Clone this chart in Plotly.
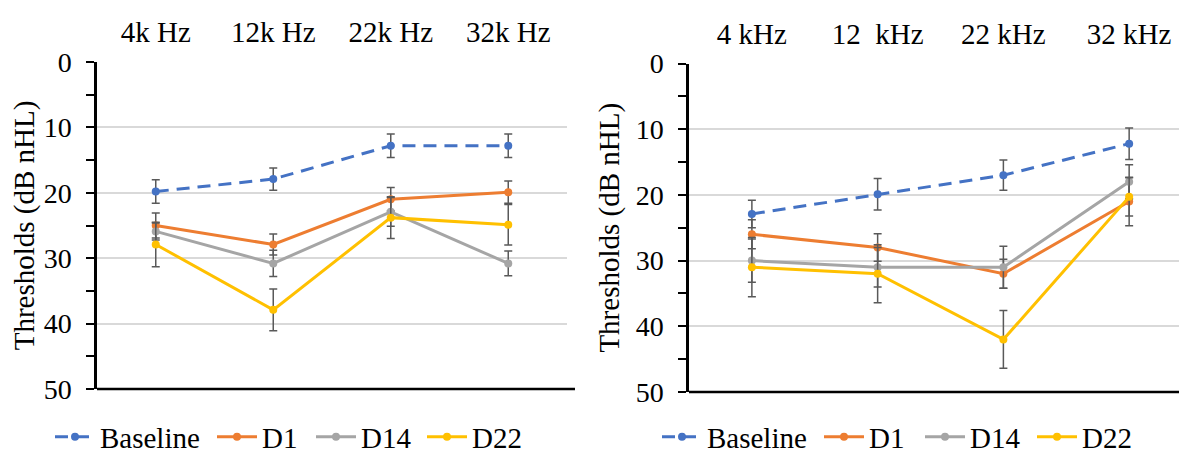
import plotly.graph_objects as go

# ---------------- data ----------------
cats_left = ["4k Hz", "12k Hz", "22k Hz", "32k Hz"]
cats_right = ["4 kHz", "12\u00a0 kHz", "22 kHz", "32 kHz"]
series_names = ["Baseline", "D1", "D14", "D22"]

left_baseline = [19.8, 17.9, 12.8, 12.8]
left_baseline_err = [1.8, 1.7, 1.8, 1.8]
left_d1 = [25.0, 27.9, 21.0, 19.9]
left_d1_err = [1.9, 1.6, 1.8, 1.7]
left_d14 = [25.9, 30.8, 22.9, 30.8]
left_d14_err = [1.3, 2.0, 2.2, 1.9]
left_d22 = [27.9, 37.9, 23.8, 24.9]
left_d22_err = [3.4, 3.2, 3.2, 3.1]

right_baseline = [22.9, 19.9, 17.0, 12.2]
right_baseline_err = [2.1, 2.4, 2.3, 2.4]
right_d1 = [26.0, 28.0, 32.0, 21.0]
right_d1_err = [2.2, 2.1, 2.2, 3.7]
right_d14 = [30.0, 31.0, 31.0, 18.0]
right_d14_err = [3.3, 3.0, 3.2, 2.6]
right_d22 = [31.0, 32.0, 42.0, 20.3]
right_d22_err = [4.5, 4.4, 4.4, 2.9]

y_ticks = [0, 10, 20, 30, 40, 50]

# ---------------- styles ----------------
colors = {"Baseline": "#4472C4", "D1": "#ED7D31", "D14": "#A5A5A5", "D22": "#FFC000"}
dashes = {"Baseline": "13px,8px", "D1": "solid", "D14": "solid", "D22": "solid"}
FONT = "Times New Roman, Liberation Serif, serif"
ERR_COLOR = "#595959"

# page body has an 8px default margin: size the figure to fill the rest of the window
OFF = 8
W, H = 1187 - OFF, 453 - OFF

def px_x(p):
    return (p - OFF) / W

def px_y(p):
    return 1 - (p - OFF) / H

# left edge (px) of each legend entry, left panel then right panel
legend_left_px = [56, 218, 317, 428]
legend_right_px = [663, 825, 926, 1038]

fig = go.Figure()

left_vals = [left_baseline, left_d1, left_d14, left_d22]
left_errs = [left_baseline_err, left_d1_err, left_d14_err, left_d22_err]
right_vals = [right_baseline, right_d1, right_d14, right_d22]
right_errs = [right_baseline_err, right_d1_err, right_d14_err, right_d22_err]

legend_ids = ["legend"] + [f"legend{i}" for i in range(2, 9)]

for i, (name, vals, errs) in enumerate(zip(series_names, left_vals, left_errs)):
    fig.add_trace(go.Scatter(
        x=cats_left, y=vals, name=name, mode="lines+markers",
        line=dict(color=colors[name], width=3, dash=dashes[name]),
        marker=dict(color=colors[name], size=8),
        error_y=dict(type="data", array=errs, visible=True, color=ERR_COLOR,
                     thickness=1.5, width=4),
        xaxis="x", yaxis="y", legend=legend_ids[i],
    ))

for i, (name, vals, errs) in enumerate(zip(series_names, right_vals, right_errs)):
    fig.add_trace(go.Scatter(
        x=cats_right, y=vals, name=name, mode="lines+markers",
        line=dict(color=colors[name], width=3, dash=dashes[name]),
        marker=dict(color=colors[name], size=8),
        error_y=dict(type="data", array=errs, visible=True, color=ERR_COLOR,
                     thickness=1.5, width=4),
        xaxis="x2", yaxis="y2", legend=legend_ids[4 + i],
    ))

tick_font = dict(family=FONT, size=28, color="black")

def xaxis_top(domain, rng, anchor):
    return dict(domain=domain, range=rng, side="top", anchor=anchor, showline=False,
                showgrid=False, ticks="", tickfont=dict(family=FONT, size=29, color="black"),
                ticklabelstandoff=13, zeroline=False, automargin=False)

def yaxis(domain, anchor):
    return dict(domain=domain, anchor=anchor, range=[50, 0], tickvals=y_ticks,
                tickfont=tick_font, showline=True, linecolor="black", linewidth=2.5,
                ticks="outside", ticklen=8, tickwidth=2, tickcolor="black",
                ticklabelstandoff=9, automargin=False,
                minor=dict(dtick=5, tick0=0, ticks="outside", ticklen=8, tickwidth=2,
                           tickcolor="black", showgrid=False),
                showgrid=True, gridcolor="#D9D9D9", gridwidth=1.5, zeroline=False,
                title=dict(text="Thresholds (dB nHL)", font=dict(family=FONT, size=29, color="black"),
                           standoff=8))

left_dom = [px_x(97), px_x(567)]
right_dom = [px_x(689), 1.0]
left_rng = [-0.5, 3.5]
right_rng = [-0.5, 3.46]

layout = dict(
    width=W, height=H,
    margin=dict(l=0, r=0, t=0, b=0, autoexpand=False),
    paper_bgcolor="white", plot_bgcolor="white",
    font=dict(family=FONT, color="black"),
    xaxis=xaxis_top(left_dom, left_rng, "y"),
    xaxis2=xaxis_top(right_dom, right_rng, "y2"),
    yaxis=yaxis([px_y(389), px_y(62)], "x"),
    yaxis2=yaxis([px_y(392), px_y(63.5)], "x2"),
    showlegend=True,
)
for lid, left_px in zip(legend_ids, legend_left_px + legend_right_px):
    layout[lid] = dict(orientation="h", x=px_x(left_px - 6), xanchor="left",
                       y=px_y(437), yanchor="middle", itemwidth=40,
                       font=dict(family=FONT, size=29, color="black"),
                       bgcolor="rgba(0,0,0,0)")
fig.update_layout(**layout)

# bottom horizontal axis lines (Excel draws the category axis line at the bottom)
for xr, yr in (("x domain", "y domain"), ("x2 domain", "y2 domain")):
    fig.add_shape(type="line", xref=xr, yref=yr, x0=0, x1=1.017, y0=0, y1=0,
                  line=dict(color="black", width=2.5), layer="above")

fig.write_html("out.html")
